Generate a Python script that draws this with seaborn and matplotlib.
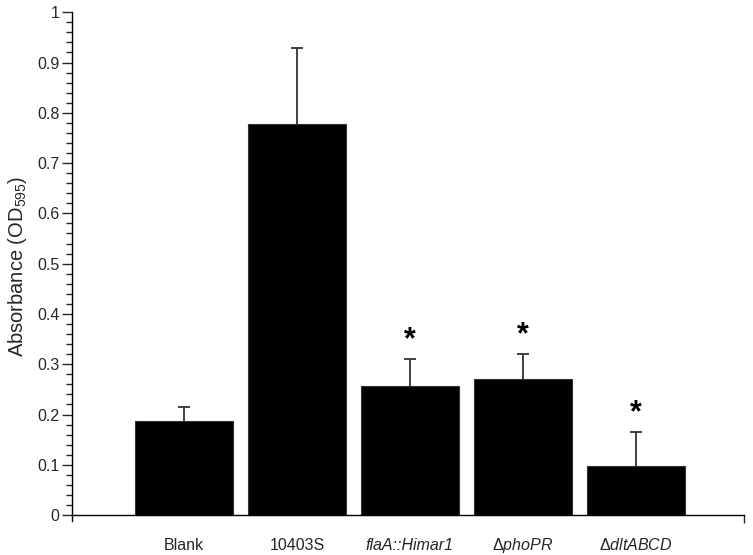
import numpy as np
import pandas as pd
import seaborn as sns
import matplotlib.pyplot as plt
from matplotlib.ticker import MultipleLocator

# data
strains = ['Blank', '10403S', 'flaA::Himar1', 'phoPR', 'dltABCD']
tick_labels = ['Blank', '10403S', 'flaA::Himar1', r'$\Delta\mathit{phoPR}$', r'$\Delta\mathit{dltABCD}$']
absorbance = [0.188, 0.778, 0.257, 0.271, 0.098]
error_up = [0.026, 0.150, 0.054, 0.050, 0.068]
significant = [False, False, True, True, True]

df = pd.DataFrame({'strain': strains, 'absorbance': absorbance})

sns.set_style("ticks")
plt.rcParams['font.family'] = ['Liberation Sans', 'DejaVu Sans']
plt.rcParams['mathtext.fontset'] = 'custom'
plt.rcParams['mathtext.rm'] = 'Liberation Sans'
plt.rcParams['mathtext.it'] = 'Liberation Sans:italic'

fig = plt.figure(figsize=(7.53, 5.55), dpi=100)
ax = fig.add_axes([0.0956, 0.061, 0.893, 0.917])

sns.barplot(data=df, x='strain', y='absorbance', color='black', width=0.87,
            saturation=1, edgecolor='#333333', linewidth=0.8, ax=ax)

# upper-only error bars: stem plus a single cap on top
x = np.arange(len(strains))
tops = np.array(absorbance) + np.array(error_up)
ax.errorbar(x, absorbance, yerr=[np.zeros(len(x)), error_up], fmt='none',
            ecolor='#333333', elinewidth=1.3, capsize=0)
ax.plot(x, tops, ls='none', marker='_', markersize=8.6, markeredgewidth=1.3,
        color='#333333')

# significance stars
for i, sig in enumerate(significant):
    if sig:
        ax.text(x[i], tops[i] + 0.006, '*', ha='center',
                va='bottom', fontsize=22, fontweight='bold', color='black')

ax.set_xlim(-0.99, 4.96)
ax.set_ylim(-0.012, 1.0)
ax.spines['bottom'].set_position(('data', 0))
ax.spines['right'].set_visible(False)
ax.spines['top'].set_visible(False)
ax.spines['left'].set_bounds(-0.012, 1.0)

ax.set_yticks(np.arange(0, 1.01, 0.1))
ax.yaxis.set_minor_locator(MultipleLocator(0.02))
ax.set_yticklabels(['0', '0.1', '0.2', '0.3', '0.4', '0.5', '0.6', '0.7', '0.8', '0.9', '1'])
ax.tick_params(axis='y', which='major', length=7, width=1, direction='out', labelsize=11.5, pad=2)
ax.tick_params(axis='y', which='minor', length=4, width=1, direction='out')

ax.set_xticks(x)
ax.set_xticklabels(tick_labels)
ax.set_xticks([4.96], minor=True)
ax.tick_params(axis='x', which='major', length=0, labelsize=11.5, pad=25)
ax.tick_params(axis='x', which='minor', length=6, width=1, direction='out')
for lbl in ax.get_xticklabels():
    lbl.set_va('baseline')
ax.get_xticklabels()[2].set_fontstyle('italic')

ax.set_xlabel('')
ax.set_ylabel('Absorbance (OD$_{595}$)', fontsize=14.5, labelpad=6)

for s in ax.spines.values():
    s.set_linewidth(1)
    s.set_color('black')

plt.savefig('out.png', dpi=100)
